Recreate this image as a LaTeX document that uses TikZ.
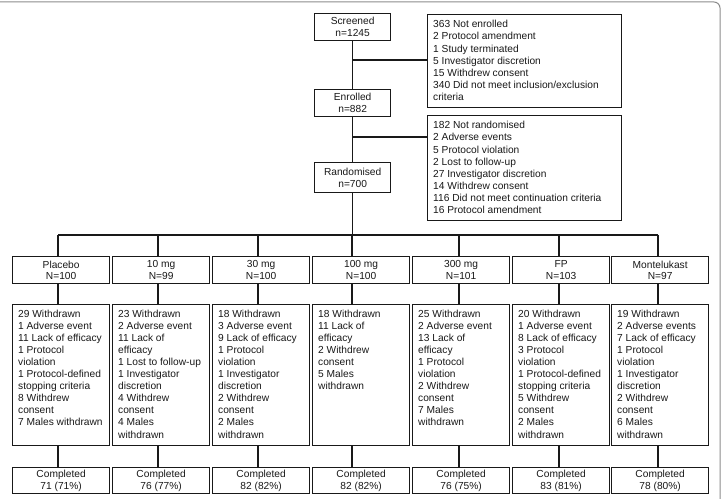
\documentclass[tikz,border=0pt]{standalone}
\usepackage{fontspec}
\setmainfont{Liberation Sans}
\newcommand\myfs{\fontsize{10.2bp}{12.1bp}\selectfont}
\newcommand\mygfs{\fontsize{10.2bp}{11.5bp}\selectfont}
\begin{document}
\begin{tikzpicture}[x=1bp,y=-1bp,
  box/.style={draw=black!90, line width=1.3bp, anchor=north west, inner sep=0, fill=white},
  lbl/.style={align=center, font=\myfs, inner sep=0, text=black!90},
  glbl/.style={align=center, font=\mygfs, inner sep=0, text=black!90},
  lst/.style={align=left, anchor=north west, font=\myfs, inner sep=0, text=black!90},
  conn/.style={draw=black!90, line width=1.3bp},
  frame/.style={draw=black!45, line width=1bp, rounded corners=6bp}]
\useasboundingbox (0,0) rectangle (723,499);
\fill[white] (0,0) rectangle (723,499);
\draw[frame] (-10,2) -- (720,2) -- (720,510);

% top column
\node[box, minimum width=76bp, minimum height=27bp] (scr) at (314,13) {};
\node[lbl] at (scr.center) {Screened\\n=1245};
\node[box, minimum width=76bp, minimum height=27bp] (enr) at (314,89) {};
\node[lbl] at (enr.center) {Enrolled\\n=882};
\node[box, minimum width=76bp, minimum height=30bp] (rnd) at (314,162) {};
\node[lbl] at (rnd.center) {Randomised\\n=700};

\node[box, minimum width=194bp, minimum height=93bp] (nenr) at (427,14) {};
\node[lst] at ([shift={(6bp,-6.3bp)}]nenr.north west) {363 Not enrolled\\2 Protocol amendment\\1 Study terminated\\5 Investigator discretion\\15 Withdrew consent\\340 Did not meet inclusion/exclusion\\criteria};
\node[box, minimum width=194bp, minimum height=105bp] (nrnd) at (427,115) {};
\node[lst] at ([shift={(6bp,-6.3bp)}]nrnd.north west) {182 Not randomised\\2 Adverse events\\5 Protocol violation\\2 Lost to follow-up\\27 Investigator discretion\\14 Withdrew consent\\116 Did not meet continuation criteria\\16 Protocol amendment};

\coordinate (b1) at (352,60);
\coordinate (b2) at (352,137);
\coordinate (bus) at (0,235);
\draw[conn] (scr.south) -- (enr.north);
\draw[conn] (enr.south) -- (rnd.north);
\draw[conn] (b1) -- (b1 -| nenr.west);
\draw[conn] (b2) -- (b2 -| nrnd.west);
\draw[conn] (rnd.south) -- (rnd.south |- bus);

% columns
\coordinate (k1) at (58,0);
\coordinate (k2) at (158,0);
\coordinate (k3) at (258,0);
\coordinate (k4) at (352,0);
\coordinate (k5) at (459,0);
\coordinate (k6) at (559,0);
\coordinate (k7) at (658,0);
\draw[conn] (k1 |- bus) -- (k7 |- bus);

\foreach \i/\x/\t in {1/12/{Placebo\\N=100},2/112/{10 mg\\N=99},3/212/{30 mg\\N=100},4/312/{100 mg\\N=100},5/412/{300 mg\\N=101},6/512/{FP\\N=103},7/611/{Montelukast\\N=97}}{
  \node[box, minimum width=97bp, minimum height=27bp] (g\i) at (\x,256) {};
  \node[glbl] at (g\i.center) {\t};
  \node[box, minimum width=97bp, minimum height=141bp] (w\i) at (\x,304) {};
}
\foreach \i/\x/\t in {1/12/{71 (71\%)},2/112/{76 (77\%)},3/212/{82 (82\%)},4/312/{82 (82\%)},5/412/{76 (75\%)},6/512/{83 (81\%)},7/611/{78 (80\%)}}{
  \node[box, minimum width=97bp, minimum height=26bp] (c\i) at (\x,467) {};
  \node[lbl] at (c\i.center) {Completed\\\t};
}
\foreach \i in {1,...,7}{
  \draw[conn] (k\i |- bus) -- (k\i |- g\i.north);
  \draw[conn] (k\i |- g\i.south) -- (k\i |- w\i.north);
  \draw[conn] (k\i |- w\i.south) -- (k\i |- c\i.north);
}

\node[lst] at ([shift={(6bp,-5.5bp)}]w1.north west) {29 Withdrawn\\1 Adverse event\\11 Lack of efficacy\\1 Protocol\\violation\\1 Protocol-defined\\stopping criteria\\8 Withdrew\\consent\\7 Males withdrawn};
\node[lst] at ([shift={(6bp,-5.5bp)}]w2.north west) {23 Withdrawn\\2 Adverse event\\11 Lack of\\efficacy\\1 Lost to follow-up\\1 Investigator\\discretion\\4 Withdrew\\consent\\4 Males\\withdrawn};
\node[lst] at ([shift={(6bp,-5.5bp)}]w3.north west) {18 Withdrawn\\3 Adverse event\\9 Lack of efficacy\\1 Protocol\\violation\\1 Investigator\\discretion\\2 Withdrew\\consent\\2 Males\\withdrawn};
\node[lst] at ([shift={(6bp,-5.5bp)}]w4.north west) {18 Withdrawn\\11 Lack of\\efficacy\\2 Withdrew\\consent\\5 Males\\withdrawn};
\node[lst] at ([shift={(6bp,-5.5bp)}]w5.north west) {25 Withdrawn\\2 Adverse event\\13 Lack of\\efficacy\\1 Protocol\\violation\\2 Withdrew\\consent\\7 Males\\withdrawn};
\node[lst] at ([shift={(6bp,-5.5bp)}]w6.north west) {20 Withdrawn\\1 Adverse event\\8 Lack of efficacy\\3 Protocol\\violation\\1 Protocol-defined\\stopping criteria\\5 Withdrew\\consent\\2 Males\\withdrawn};
\node[lst] at ([shift={(6bp,-5.5bp)}]w7.north west) {19 Withdrawn\\2 Adverse events\\7 Lack of efficacy\\1 Protocol\\violation\\1 Investigator\\discretion\\2 Withdrew\\consent\\6 Males\\withdrawn};
\end{tikzpicture}
\end{document}
